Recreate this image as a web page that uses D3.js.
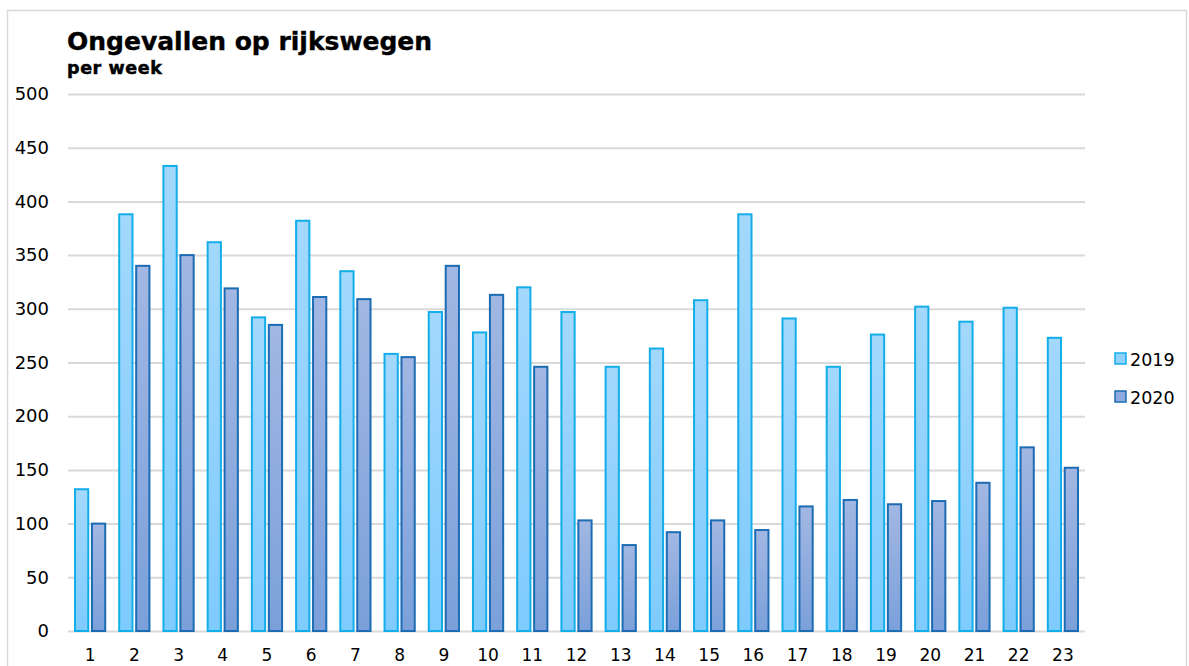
<!DOCTYPE html>
<html><head><meta charset="utf-8">
<script src="https://cdn.jsdelivr.net/npm/d3@7"></script>
<style>body{margin:0;background:#fff}svg{display:block}</style>
</head><body>
<svg id="c" width="1189" height="666"></svg>
<script>
const weeks = ["1","2","3","4","5","6","7","8","9","10","11","12","13","14","15","16","17","18","19","20","21","22","23"];
const series = ["2019","2020"];
const v2019 = [132,388,433,362,292,382,335,258,297,278,320,297,246,263,308,388,291,246,276,302,288,301,273];
const v2020 = [100,340,350,319,285,311,309,255,340,313,246,103,80,92,103,94,116,122,118,121,138,171,152];
const yTicks = [0,50,100,150,200,250,300,350,400,450,500];

const svg = d3.select("#c");
const font = "'DejaVu Sans', Verdana, sans-serif";
const defs = svg.append("defs");
function grad(id, c1, c2){
  const g = defs.append("linearGradient").attr("id",id).attr("x1",0).attr("y1",0).attr("x2",0).attr("y2",1);
  g.append("stop").attr("offset","0%").attr("stop-color",c1);
  g.append("stop").attr("offset","100%").attr("stop-color",c2);
}
grad("g2019","#a3d8fc","#7ecbfe");
grad("g2020","#a2b7e3","#7ba0da");
const fills = {"2019":"url(#g2019)","2020":"url(#g2020)"};
const strokes = {"2019":"#13aee9","2020":"#1c6cb3"};
const legendFills = {"2019":"#8fd0fd","2020":"#8eaade"};

// frame
svg.append("rect").attr("x",7.5).attr("y",10.5).attr("width",1179).attr("height",670)
  .attr("fill","none").attr("stroke","#d9d9d9").attr("stroke-width",1.5);

const x = d3.scaleBand().domain(weeks).range([68,1085]).paddingInner(0).paddingOuter(0);
const y = d3.scaleLinear().domain([0,500]).range([631,94]);
const xs = d3.scaleBand().domain(series).range([6, x.bandwidth()-6]).paddingInner(0.1);

// grid
const yAxis = d3.axisLeft(y).tickValues(yTicks).tickSize(-(1085-68)).tickPadding(19);
const ga = svg.append("g").attr("transform","translate(68,0)").call(yAxis);
ga.select(".domain").remove();
ga.selectAll(".tick line").attr("stroke","#d9d9d9").attr("stroke-width",2);
ga.selectAll(".tick text").attr("font-family",font).attr("font-size",18).attr("fill","#000");

// bars
const data = weeks.map((w,i)=>({w, vals:[{s:"2019",v:v2019[i]},{s:"2020",v:v2020[i]}]}));
const groups = svg.append("g").selectAll("g").data(data).join("g")
  .attr("transform",d=>`translate(${x(d.w)},0)`);
groups.selectAll("rect").data(d=>d.vals).join("rect")
  .attr("x",d=>xs(d.s)+1).attr("width",xs.bandwidth()-2)
  .attr("y",d=>y(d.v)).attr("height",d=>y(0)-y(d.v))
  .attr("fill",d=>fills[d.s]).attr("stroke",d=>strokes[d.s]).attr("stroke-width",2);

// x axis labels
const xAxis = d3.axisBottom(x).tickSize(0).tickPadding(18);
const gx = svg.append("g").attr("transform","translate(0,631)").call(xAxis);
gx.select(".domain").remove();
gx.selectAll(".tick text").attr("font-family",font).attr("font-size",17).attr("fill","#000");

// title
svg.append("text").attr("x",67).attr("y",50).attr("font-family",font).attr("font-weight","bold")
  .attr("font-size",25).attr("fill","#000").attr("stroke","#000").attr("stroke-width",0.4)
  .text("Ongevallen op rijkswegen");
svg.append("text").attr("x",67).attr("y",74).attr("font-family",font).attr("font-weight","bold")
  .attr("font-size",17.5).attr("fill","#000").attr("stroke","#000").attr("stroke-width",0.5)
  .attr("letter-spacing",0.6)
  .text("per week");

// legend
const lg = svg.append("g").selectAll("g").data(series).join("g")
  .attr("transform",(d,i)=>`translate(1115,${359+i*38})`);
lg.append("rect").attr("x",0).attr("y",-6).attr("width",11).attr("height",11)
  .attr("fill",d=>legendFills[d]).attr("stroke",d=>strokes[d]).attr("stroke-width",1.5);
lg.append("text").attr("x",15).attr("y",6.5).attr("font-family",font).attr("font-size",17.5)
  .attr("fill","#000").text(d=>d);
</script>
</body></html>
